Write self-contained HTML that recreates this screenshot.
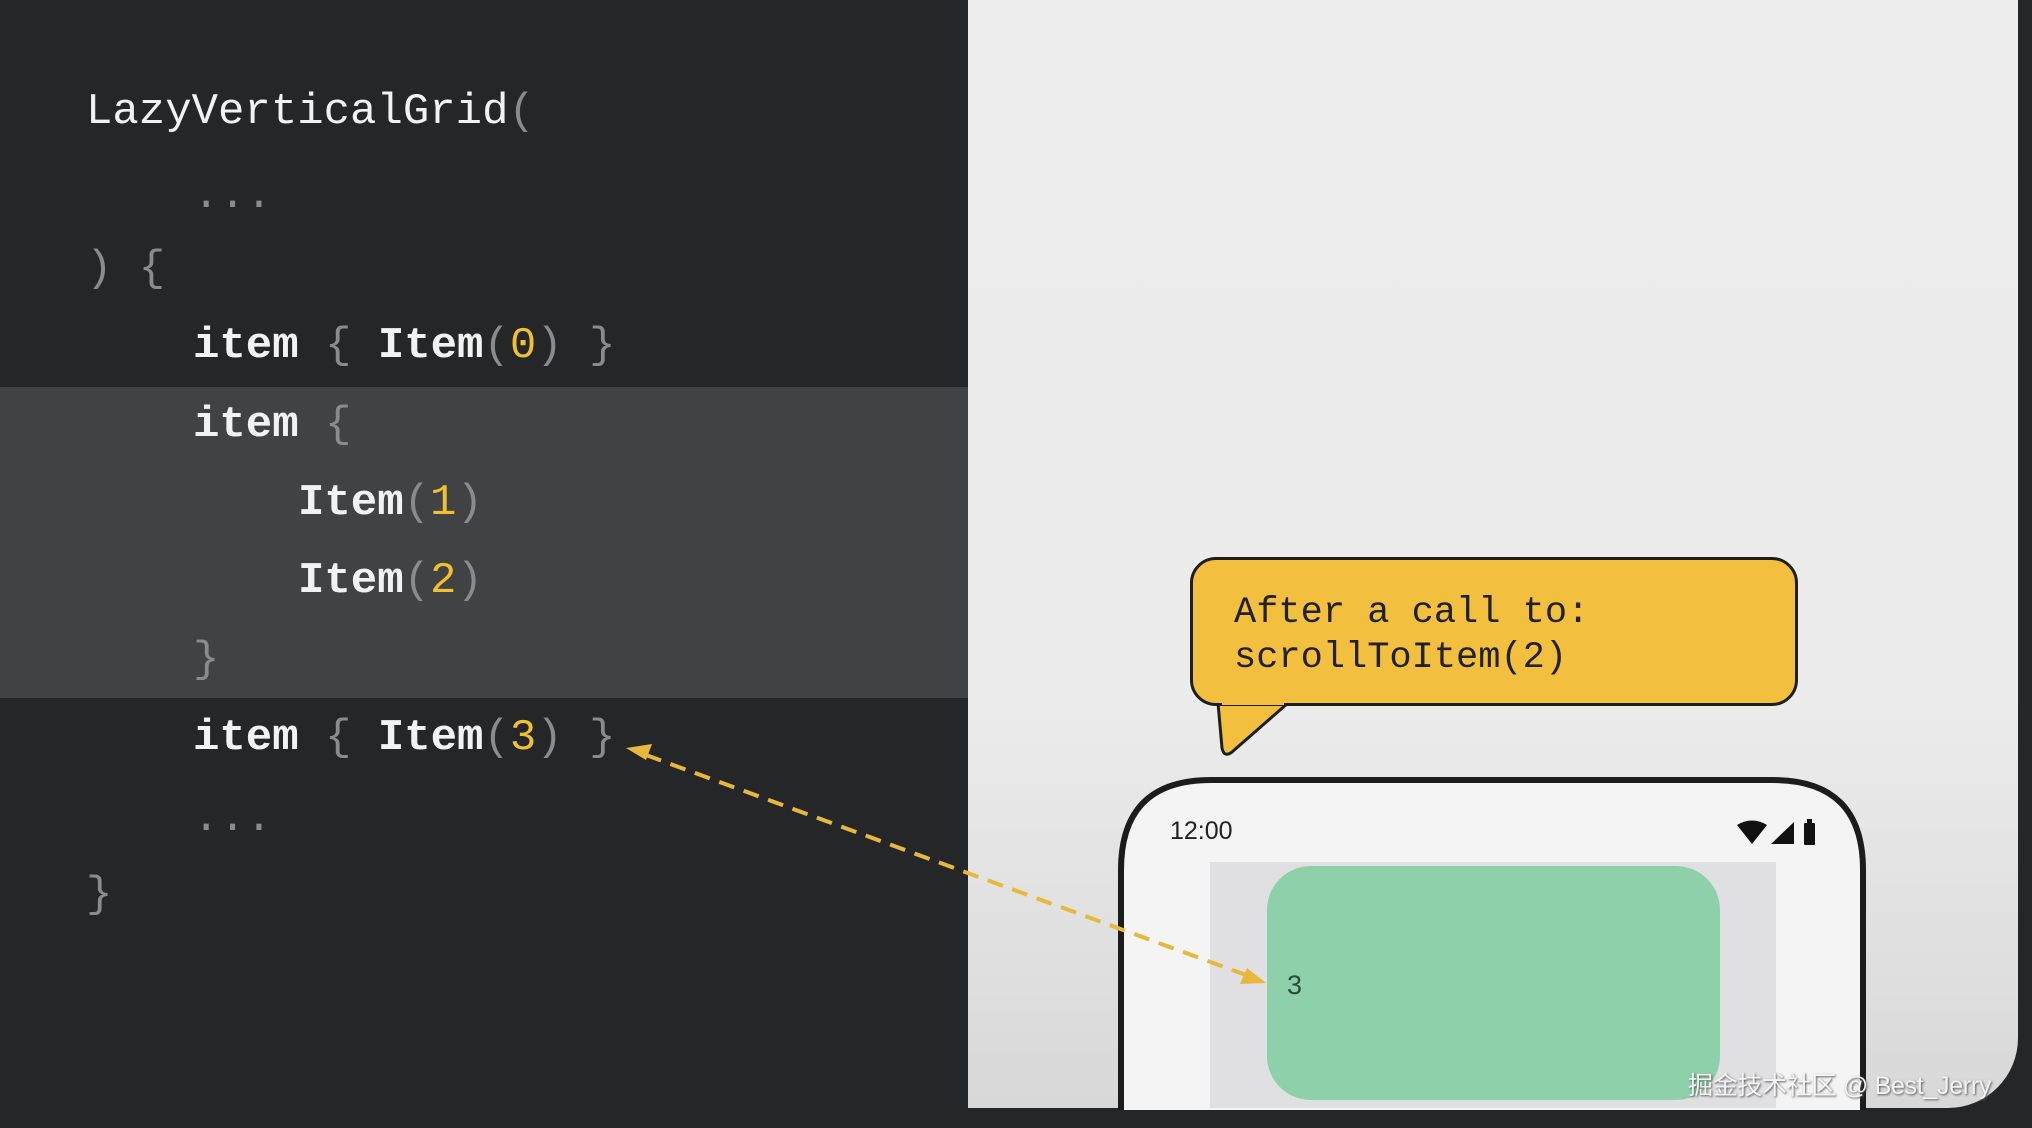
<!DOCTYPE html>
<html><head><meta charset="utf-8"><style>
html,body{margin:0;padding:0}
body{width:2032px;height:1128px;position:relative;overflow:hidden;background:#252628;font-family:"Liberation Mono",monospace}
.hl{position:absolute;left:0;top:387px;width:968px;height:311px;background:#414244}
.ln{position:absolute;height:60px;line-height:60px;font-size:44px;color:#f2f2f2;white-space:pre;font-weight:bold}
.g{color:#8a8b8d;font-weight:normal}
.y{color:#f0c030;font-weight:normal}
.panel{position:absolute;left:968px;top:0;width:1050px;height:1108px;border-bottom-right-radius:70px;background:linear-gradient(#ededed 0,#ececec 690px,#d8d8d8 1108px);overflow:hidden}
.bub{position:absolute;left:1190px;top:557px;width:608px;height:149px;background:#f2bf3e;border:3px solid #1e1e1e;border-radius:26px;box-sizing:border-box}
.bt{position:absolute;left:1234px;font-size:37px;color:#222;white-space:pre;line-height:45px}
.wm{position:absolute;left:1688px;top:1066px;font-family:"Liberation Sans","Noto Sans CJK SC",sans-serif;font-size:25px;color:#f4f4f4;text-shadow:1px 1px 2px #555;letter-spacing:-0.3px}
</style></head><body>
<div class="hl"></div>
<div class="ln" style="left:86px;top:82px;font-weight:normal">LazyVerticalGrid<span class="g">(</span></div>
<div class="ln g" style="left:193px;top:166px">...</div>
<div class="ln g" style="left:86px;top:239px">) {</div>
<div class="ln" style="left:193px;top:316px">item <span class="g">{</span> Item<span class="g">(</span><span class="y">0</span><span class="g">)</span> <span class="g">}</span></div>
<div class="ln" style="left:193px;top:395px">item <span class="g">{</span></div>
<div class="ln" style="left:298px;top:473px">Item<span class="g">(</span><span class="y">1</span><span class="g">)</span></div>
<div class="ln" style="left:298px;top:551px">Item<span class="g">(</span><span class="y">2</span><span class="g">)</span></div>
<div class="ln g" style="left:193px;top:630px">}</div>
<div class="ln" style="left:193px;top:708px">item <span class="g">{</span> Item<span class="g">(</span><span class="y">3</span><span class="g">)</span> <span class="g">}</span></div>
<div class="ln g" style="left:193px;top:789px">...</div>
<div class="ln g" style="left:86px;top:865px">}</div>

<div class="panel"></div>

<svg width="2032" height="1128" style="position:absolute;left:0;top:0">
  <path d="M1121 1110 V870 Q1121 780 1211 780 H1773 Q1863 780 1863 870 V1110" fill="#f4f4f4" stroke="#1c1c1c" stroke-width="6"/>
  <rect x="1210" y="862" width="566" height="246" fill="#e0e0e2"/>
  <rect x="1267" y="866" width="453" height="234" rx="44" fill="#8dd0aa"/>
  <text x="1170" y="839" font-family="Liberation Sans,sans-serif" font-size="25" fill="#222">12:00</text>
  <text x="1287" y="994" font-family="Liberation Sans,sans-serif" font-size="27" fill="#2a4a3a">3</text>
  <path d="M1737 825 Q1752 816 1767 825 L1752 844 Z" fill="#111"/>
  <path d="M1771 844 L1794 822 V844 Z" fill="#111"/>
  <rect x="1804" y="823" width="11" height="22" rx="1" fill="#111"/>
  <rect x="1807" y="819" width="5" height="5" fill="#111"/>
  <path d="M1218 703 L1222 748 Q1224 758 1232 752 L1288 703 Z" fill="#f2bf3e" stroke="#1e1e1e" stroke-width="3" stroke-linejoin="round"/>
  <line x1="646" y1="755" x2="1246" y2="975" stroke="#e8b83a" stroke-width="4" stroke-dasharray="16 10"/>
  <path d="M626 748 L652 744 L646 760 Z" fill="#e8b83a"/>
  <path d="M1266 983 L1240 984 L1247 968 Z" fill="#e8b83a"/>
</svg>
<div class="bub"></div>
<svg width="2032" height="1128" style="position:absolute;left:0;top:0"><rect x="1222" y="699" width="62" height="6" fill="#f2bf3e"/></svg>
<div class="bt" style="top:591px">After a call to:</div>
<div class="bt" style="top:636px">scrollToItem(2)</div>
<div class="wm">掘金技术社区 @ Best_Jerry</div>
</body></html>
